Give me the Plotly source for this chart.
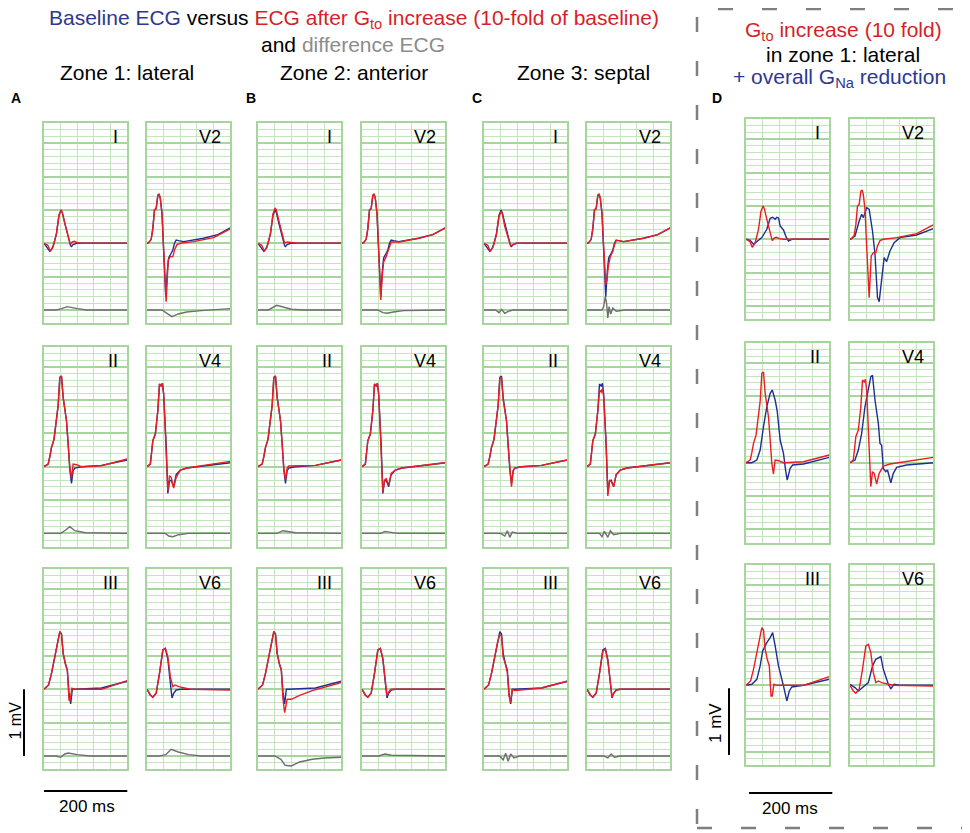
import plotly.graph_objects as go

# target picture size; the html page adds an 8 px body margin, so the figure is shifted by that
W, H = 970, 833
PAGE_MARGIN = 8

# lead layout inside each zone: rows of (left, right)
lead_rows = [("I", "V2"), ("II", "V4"), ("III", "V6")]

# ---- baseline ECG (blue in A-C), pairs of (ms, mV)
base_I = [(0, 0), (8, -0.06), (14, -0.12), (20, -0.07), (24, 0), (30, 0.15), (36, 0.42), (41, 0.5), (44, 0.46),
          (50, 0.3), (58, 0.1), (64, -0.04), (66, -0.05), (70, -0.02), (78, 0), (200, 0)]
base_V2 = [(0, 0), (4, 0.01), (10, 0.06), (14, 0.22), (18, 0.5), (22, 0.52), (26, 0.72), (29, 0.74), (32, 0.67),
           (36, 0.45), (40, -0.1), (45, -0.8), (49, -0.4), (52, -0.22), (58, -0.15), (62, -0.1), (66, 0.0),
           (70, 0.05), (76, 0.04), (88, 0.025), (136, 0.075), (170, 0.13), (200, 0.23)]
base_II = [(0, 0), (6, 0.02), (10, 0.04), (14, 0.15), (18, 0.29), (24, 0.41), (30, 0.69), (34, 0.92), (38, 1.34),
           (42, 1.36), (46, 1.04), (54, 0.69), (58, 0.34), (62, -0.05), (66, -0.25), (70, -0.06), (74, -0.02),
           (90, 0), (138, 0.02), (200, 0.1)]
base_V4 = [(0, 0), (8, 0.04), (14, 0.39), (20, 0.49), (26, 0.84), (30, 1.24), (34, 1.21), (37, 1.25), (40, 1.09),
           (46, 0.34), (50, -0.4), (54, -0.22), (58, -0.2), (64, -0.3), (70, -0.12), (80, -0.05), (96, -0.02),
           (200, 0.06)]
base_III = [(0, 0), (11, 0.065), (18, 0.24), (24, 0.44), (32, 0.69), (38, 0.865), (42, 0.83), (46, 0.54),
            (51, 0.39), (56, 0.29), (60, -0.05), (64, -0.22), (68, 0), (74, 0), (138, 0.02), (200, 0.12)]
base_V6 = [(0, 0), (8, -0.085), (14, -0.12), (22, -0.06), (30, 0.24), (38, 0.59), (44, 0.615), (50, 0.45),
           (56, 0.1), (60, -0.13), (64, -0.06), (70, -0.01), (80, 0), (200, 0)]

# ---- Gto increase in zone 1 (red in A and D)
red1_I = [(0, 0), (9, -0.03), (15, -0.12), (22, -0.05), (30, 0.15), (36, 0.42), (41, 0.5), (44, 0.46), (50, 0.3),
          (57, 0.1), (63, -0.02), (68, 0.02), (73, 0.03), (80, 0.01), (90, 0), (200, 0)]
red1_V2 = [(0, 0), (4, 0.01), (10, 0.06), (14, 0.22), (18, 0.5), (22, 0.52), (26, 0.72), (29, 0.74), (32, 0.67),
           (36, 0.45), (40, -0.1), (46, -0.875), (51, -0.25), (56, -0.2), (62, -0.2), (66, -0.1), (72, -0.02),
           (80, 0), (112, 0.025), (160, 0.085), (200, 0.215)]
red1_II = [(0, 0), (6, 0.02), (10, 0.04), (14, 0.15), (18, 0.29), (24, 0.41), (30, 0.69), (34, 0.92), (38, 1.34),
           (42, 1.36), (46, 1.04), (54, 0.69), (58, 0.34), (62, -0.01), (66, -0.17), (70, 0.04), (78, 0.03),
           (90, 0), (138, 0.015), (200, 0.115)]
red1_V4 = [(0, 0), (8, 0.04), (14, 0.39), (20, 0.49), (26, 0.84), (30, 1.24), (34, 1.21), (37, 1.25), (40, 1.09),
           (46, 0.34), (50, -0.36), (54, -0.135), (58, -0.16), (64, -0.32), (70, -0.16), (80, -0.05), (96, -0.02),
           (200, 0.08)]
red1_III = [(0, 0), (11, 0.065), (18, 0.24), (24, 0.44), (32, 0.69), (38, 0.865), (42, 0.83), (46, 0.54),
            (51, 0.39), (56, 0.29), (60, -0.16), (63, -0.16), (67, 0.015), (74, 0), (138, 0), (200, 0.13)]
red1_V6 = [(0, 0), (8, -0.085), (14, -0.12), (22, -0.06), (30, 0.24), (38, 0.59), (44, 0.615), (50, 0.49),
           (56, 0.19), (62, 0.04), (68, 0.065), (76, 0.04), (104, 0), (200, -0.01)]

# ---- Gto increase in zone 2 (red in B)
red2_I = [(0, 0), (9, -0.03), (15, -0.12), (22, -0.05), (30, 0.15), (36, 0.44), (41, 0.53), (44, 0.5), (50, 0.34),
          (58, 0.12), (64, 0.0), (70, 0.02), (80, 0.01), (95, 0), (200, 0)]
red2_V2 = [(0, 0), (4, 0.01), (10, 0.06), (14, 0.22), (18, 0.5), (22, 0.52), (26, 0.72), (29, 0.74), (32, 0.67),
           (36, 0.45), (40, -0.1), (45, -0.85), (49, -0.45), (52, -0.28), (58, -0.2), (62, -0.13), (66, -0.04),
           (70, 0.02), (78, 0.02), (90, 0.02), (136, 0.075), (170, 0.13), (200, 0.23)]
red2_II = [(0, 0), (6, 0.02), (10, 0.04), (14, 0.15), (18, 0.29), (24, 0.41), (30, 0.69), (34, 0.92), (38, 1.34),
           (42, 1.36), (46, 1.04), (54, 0.69), (58, 0.34), (62, -0.02), (66, -0.2), (70, -0.02), (74, 0.01),
           (90, 0.01), (138, 0.02), (200, 0.1)]
red2_V4 = [(0, 0), (8, 0.04), (14, 0.39), (20, 0.49), (26, 0.84), (30, 1.24), (34, 1.21), (37, 1.25), (40, 1.09),
           (46, 0.34), (50, -0.38), (54, -0.2), (58, -0.18), (64, -0.28), (70, -0.1), (80, -0.05), (96, -0.02),
           (200, 0.06)]
red2_III = [(0, 0), (11, 0.065), (18, 0.24), (24, 0.44), (32, 0.69), (38, 0.87), (42, 0.83), (46, 0.54),
            (51, 0.39), (56, 0.29), (60, -0.15), (64, -0.35), (70, -0.15), (80, -0.15), (100, -0.09),
            (130, -0.02), (200, 0.1)]
red2_V6 = [(0, 0), (8, -0.085), (14, -0.12), (22, -0.06), (30, 0.24), (38, 0.59), (44, 0.615), (50, 0.47),
           (56, 0.13), (60, -0.1), (64, -0.04), (70, 0), (80, 0), (200, 0)]

# ---- Gto increase in zone 3 (red in C)
red3_I = [(0, 0), (9, -0.03), (15, -0.12), (22, -0.05), (30, 0.13), (36, 0.4), (41, 0.48), (44, 0.44), (50, 0.25),
          (58, 0.08), (64, -0.04), (70, -0.02), (78, 0), (200, 0)]
red3_V2 = [(0, 0), (4, 0.01), (10, 0.06), (14, 0.22), (18, 0.5), (22, 0.52), (26, 0.72), (29, 0.74), (32, 0.67),
           (36, 0.45), (40, -0.05), (45, -0.62), (48, -0.55), (51, -0.35), (56, -0.2), (62, -0.12), (66, -0.02),
           (70, 0.04), (76, 0.04), (88, 0.025), (136, 0.075), (170, 0.13), (200, 0.23)]
red3_II = [(0, 0), (6, 0.02), (10, 0.04), (14, 0.15), (18, 0.29), (24, 0.41), (30, 0.69), (34, 0.92), (38, 1.32),
           (42, 1.34), (46, 1.0), (54, 0.69), (58, 0.3), (62, -0.08), (66, -0.3), (70, -0.06), (74, -0.02),
           (90, 0), (138, 0.02), (200, 0.1)]
red3_V4 = [(0, 0), (8, 0.04), (14, 0.39), (20, 0.49), (26, 0.84), (30, 1.15), (34, 1.12), (37, 1.17), (40, 1.05),
           (46, 0.3), (50, -0.44), (54, -0.2), (58, -0.22), (64, -0.3), (70, -0.12), (80, -0.05), (96, -0.02),
           (200, 0.06)]
red3_III = [(0, 0), (11, 0.065), (18, 0.24), (24, 0.44), (32, 0.69), (38, 0.82), (42, 0.8), (46, 0.48),
            (51, 0.39), (56, 0.25), (60, -0.1), (64, -0.2), (68, 0), (74, -0.02), (138, 0.02), (200, 0.12)]
red3_V6 = [(0, 0), (8, -0.085), (14, -0.12), (22, -0.06), (30, 0.24), (38, 0.57), (44, 0.6), (50, 0.42),
           (56, 0.12), (60, -0.12), (64, -0.06), (70, -0.01), (80, 0), (200, 0)]

# ---- difference ECG (gray), drawn 1 mV below the baseline
diff1_I = [(0, 0), (30, 0), (42, 0.02), (56, 0.05), (80, 0.02), (102, 0), (200, 0)]
diff1_V2 = [(0, 0), (36, 0), (48, -0.05), (60, -0.1), (75, -0.06), (95, -0.03), (130, -0.01), (200, 0.02)]
diff1_II = [(0, 0), (40, 0), (52, 0.05), (62, 0.1), (74, 0.04), (100, 0.01), (200, 0)]
diff1_V4 = [(0, 0), (44, 0), (52, -0.04), (62, -0.05), (76, -0.02), (100, 0), (200, 0)]
diff1_III = [(0, 0), (30, 0), (40, -0.02), (50, 0.03), (58, 0.045), (80, 0.02), (110, 0), (200, 0)]
diff1_V6 = [(0, 0), (30, 0), (45, 0.02), (58, 0.1), (75, 0.06), (100, 0.02), (130, 0), (200, 0)]

diff2_I = [(0, 0), (25, 0), (45, 0.07), (60, 0.04), (80, 0.01), (110, 0), (200, 0)]
diff2_V2 = [(0, 0), (38, 0), (50, -0.04), (60, -0.05), (75, -0.03), (100, -0.01), (200, 0)]
diff2_II = [(0, 0), (45, 0), (60, 0.04), (70, 0.03), (90, 0.01), (200, 0)]
diff2_V4 = [(0, 0), (45, 0), (55, 0.03), (65, 0.02), (85, 0), (200, 0)]
diff2_III = [(0, 0), (40, 0), (55, -0.05), (65, -0.14), (80, -0.15), (100, -0.09), (130, -0.05), (160, -0.03),
             (200, -0.02)]
diff2_V6 = [(0, 0), (40, 0), (55, 0.03), (70, 0.01), (200, 0)]

diff3_I = [(0, 0), (28, 0), (36, -0.04), (42, 0.01), (50, -0.05), (58, -0.02), (70, 0), (200, 0)]
diff3_V2 = [(0, 0), (36, 0), (40, 0.05), (44, 0.2), (47, 0.1), (50, -0.12), (53, 0.05), (57, -0.06), (62, 0.03),
            (70, -0.02), (90, 0), (200, 0)]
diff3_II = [(0, 0), (40, 0), (50, -0.04), (56, 0.04), (62, -0.06), (68, 0.02), (80, 0), (200, 0)]
diff3_V4 = [(0, 0), (30, 0), (36, -0.05), (42, 0.03), (50, -0.06), (56, 0.04), (64, -0.02), (80, 0), (200, 0)]
diff3_III = [(0, 0), (38, 0), (46, -0.06), (52, 0.04), (58, -0.08), (64, 0.03), (72, -0.03), (85, 0), (200, 0)]
diff3_V6 = [(0, 0), (40, 0), (50, -0.03), (58, 0.03), (66, -0.02), (80, 0), (200, 0)]

# ---- zone 1 Gto increase + overall GNa reduction (blue in D)
gna_I = [(0, 0), (10, -0.015), (18, -0.075), (26, -0.04), (38, 0.025), (50, 0.15), (58, 0.315), (64, 0.33),
         (70, 0.3), (74, 0.33), (78, 0.32), (82, 0.2), (90, 0.14), (97, 0.025), (102, -0.025), (110, 0), (200, 0)]
gna_V2 = [(0, 0), (12, 0.05), (22, 0.275), (28, 0.375), (32, 0.325), (40, 0.475), (46, 0.45), (54, 0.125),
          (60, -0.225), (66, -0.875), (70, -0.935), (76, -0.635), (82, -0.275), (88, -0.335), (96, -0.175),
          (106, -0.05), (120, 0.025), (160, 0.065), (200, 0.16)]
gna_II = [(0, 0), (14, 0), (26, 0.04), (34, 0.19), (42, 0.54), (50, 0.84), (58, 1.04), (63, 1.09), (70, 0.94),
          (75, 0.77), (82, 0.34), (90, 0.14), (95, -0.11), (99, -0.26), (106, -0.085), (112, -0.035), (138, -0.02),
          (200, 0.08)]
gna_V4 = [(0, 0), (12, 0.04), (20, 0.19), (28, 0.44), (36, 0.84), (44, 1.09), (50, 1.29), (54, 1.31), (60, 0.94),
          (68, 0.59), (72, 0.29), (76, 0.26), (80, -0.085), (86, -0.135), (90, -0.11), (98, -0.3), (104, -0.16),
          (112, -0.07), (136, -0.035), (200, 0)]
gna_III = [(0, 0), (14, 0.015), (26, 0.09), (34, 0.29), (40, 0.515), (50, 0.64), (58, 0.715), (64, 0.79),
           (70, 0.59), (78, 0.29), (90, -0.01), (98, -0.235), (104, -0.085), (110, -0.025), (138, 0), (200, 0.09)]
gna_V6 = [(0, 0.015), (12, -0.035), (20, -0.085), (30, -0.035), (44, 0.04), (54, 0.29), (62, 0.39), (74, 0.43),
          (80, 0.24), (88, 0.09), (92, 0.015), (98, -0.05), (106, 0.015), (120, 0), (200, 0)]

baseline = {"I": base_I, "V2": base_V2, "II": base_II, "V4": base_V4, "III": base_III, "V6": base_V6}
red_z1 = {"I": red1_I, "V2": red1_V2, "II": red1_II, "V4": red1_V4, "III": red1_III, "V6": red1_V6}
red_z2 = {"I": red2_I, "V2": red2_V2, "II": red2_II, "V4": red2_V4, "III": red2_III, "V6": red2_V6}
red_z3 = {"I": red3_I, "V2": red3_V2, "II": red3_II, "V4": red3_V4, "III": red3_III, "V6": red3_V6}
diff_z1 = {"I": diff1_I, "V2": diff1_V2, "II": diff1_II, "V4": diff1_V4, "III": diff1_III, "V6": diff1_V6}
diff_z2 = {"I": diff2_I, "V2": diff2_V2, "II": diff2_II, "V4": diff2_V4, "III": diff2_III, "V6": diff2_V6}
diff_z3 = {"I": diff3_I, "V2": diff3_V2, "II": diff3_II, "V4": diff3_V4, "III": diff3_III, "V6": diff3_V6}
gna_z1 = {"I": gna_I, "V2": gna_V2, "II": gna_II, "V4": gna_V4, "III": gna_III, "V6": gna_V6}

# ---- styling / geometry
BLUE = "#1f2e96"
RED = "#ec1c24"
GRAY = "#6e6e6e"
GRID_MINOR = "#c3e4bc"
GRID_MAJOR = "#a6d69d"
FONT = "Liberation Sans, Arial, sans-serif"

PANEL_W, PANEL_H = 83.3, 200.0
T_RANGE = [0, 200]
V_RANGE = [-1.2, 1.8]
DIFF_OFFSET = -1.0
PX_PER_MV = PANEL_H / (V_RANGE[1] - V_RANGE[0])

col_lefts = {"A": (44, 147), "B": (258, 362), "C": (484, 587), "D": (746, 850)}
row_tops = {"A": (123.3, 346.7, 569.3), "B": (123.3, 346.7, 569.3),
            "C": (123.3, 346.7, 569.3), "D": (119.3, 342.7, 565.3)}

panels = [("A", baseline, red_z1, diff_z1), ("B", baseline, red_z2, diff_z2),
          ("C", baseline, red_z3, diff_z3), ("D", gna_z1, red_z1, None)]

FIG_W, FIG_H = W - PAGE_MARGIN, H - PAGE_MARGIN


def px(x):
    return (x - PAGE_MARGIN) / FIG_W


def py(y):
    return 1 - (y - PAGE_MARGIN) / FIG_H


fig = go.Figure()
annotations = []
n = 0
for zone, blue_set, red_set, diff_set in panels:
    for r, pair in enumerate(lead_rows):
        for c, lead in enumerate(pair):
            n += 1
            left = col_lefts[zone][c]
            top = row_tops[zone][r]
            sfx = "" if n == 1 else str(n)
            fig.layout["xaxis" + sfx] = dict(
                domain=[px(left), px(left + PANEL_W)], range=T_RANGE, anchor="y" + sfx,
                dtick=40, tick0=0, showgrid=True, gridcolor=GRID_MINOR, gridwidth=1.3,
                showticklabels=False, ticks="", zeroline=False,
                showline=True, mirror=True, linecolor=GRID_MAJOR, linewidth=2, fixedrange=True)
            fig.layout["yaxis" + sfx] = dict(
                domain=[py(top + PANEL_H), py(top)], range=V_RANGE, anchor="x" + sfx,
                dtick=0.5, tick0=0, showgrid=True, gridcolor=GRID_MAJOR, gridwidth=2,
                minor=dict(dtick=0.1, tick0=0, showgrid=True, gridcolor=GRID_MINOR, gridwidth=1.2),
                showticklabels=False, ticks="", zeroline=False,
                showline=True, mirror=True, linecolor=GRID_MAJOR, linewidth=2, fixedrange=True)
            xa, ya = "x" + sfx, "y" + sfx
            if diff_set is not None:
                d = diff_set[lead]
                fig.add_trace(go.Scatter(x=[p[0] for p in d], y=[p[1] + DIFF_OFFSET for p in d], mode="lines",
                                         line=dict(color=GRAY, width=1.4), xaxis=xa, yaxis=ya))
            b = blue_set[lead]
            fig.add_trace(go.Scatter(x=[p[0] for p in b], y=[p[1] for p in b], mode="lines",
                                     line=dict(color=BLUE, width=1.4), xaxis=xa, yaxis=ya))
            rd = red_set[lead]
            fig.add_trace(go.Scatter(x=[p[0] for p in rd], y=[p[1] for p in rd], mode="lines",
                                     line=dict(color=RED, width=1.4), xaxis=xa, yaxis=ya))
            annotations.append(dict(text=lead, x=px(left + PANEL_W - 7), y=py(top + 14), xref="paper",
                                    yref="paper", xanchor="right", yanchor="middle", showarrow=False,
                                    font=dict(size=18, color="black", family=FONT)))


def text(t, x, y, size=21, color="black", bold=False, xanchor="center", angle=0):
    if bold:
        t = "<b>" + t + "</b>"
    annotations.append(dict(text=t, x=px(x), y=py(y), xref="paper", yref="paper", xanchor=xanchor,
                            yanchor="middle", showarrow=False, textangle=angle,
                            font=dict(size=size, color=color, family=FONT)))


T_BLUE = "#2b3990"
T_RED = "#d71f26"
T_GRAY = "#8c8c8c"
text("<span style='color:%s'>Baseline ECG</span> versus <span style='color:%s'>ECG after "
     "G<sub>to</sub> increase (10-fold of baseline)</span>" % (T_BLUE, T_RED), 354, 19)
text("and <span style='color:%s'>difference ECG</span>" % T_GRAY, 353, 44)
text("Zone 1: lateral", 127, 73)
text("Zone 2: anterior", 354, 73)
text("Zone 3: septal", 583, 73)
for letter, x in [("A", 16), ("B", 251), ("C", 477), ("D", 717)]:
    text(letter, x, 98, size=14, bold=True)
text("G<sub>to</sub> increase (10 fold)", 843, 31, color=T_RED)
text("in zone 1: lateral", 843, 54)
text("+ overall G<sub>Na</sub> reduction", 839, 78, color=T_BLUE)

# scale bars: 1 mV and 200 ms
bar_a_base = row_tops["A"][2] + V_RANGE[1] * PX_PER_MV
bar_d_base = row_tops["D"][2] + V_RANGE[1] * PX_PER_MV
shapes = [
    dict(type="line", xref="paper", yref="paper", x0=px(24), x1=px(24), y0=py(bar_a_base),
         y1=py(bar_a_base + PX_PER_MV), line=dict(color="black", width=2)),
    dict(type="line", xref="paper", yref="paper", x0=px(44), x1=px(44 + PANEL_W), y0=py(791), y1=py(791),
         line=dict(color="black", width=2)),
    dict(type="line", xref="paper", yref="paper", x0=px(729), x1=px(729), y0=py(bar_d_base + 3),
         y1=py(bar_d_base + 3 + PX_PER_MV), line=dict(color="black", width=2)),
    dict(type="line", xref="paper", yref="paper", x0=px(749), x1=px(749 + PANEL_W), y0=py(793), y1=py(793),
         line=dict(color="black", width=2)),
    dict(type="rect", xref="paper", yref="paper", x0=px(697), x1=px(965.5), y0=py(828), y1=py(9),
         line=dict(color="#7f7f7f", width=2.5, dash="15px,29px")),
]
text("1 mV", 14.5, 721, size=16, angle=-90)
text("200 ms", 87, 806, size=17)
text("1 mV", 715, 723, size=17, angle=-90)
text("200 ms", 790, 808, size=17)

fig.update_layout(width=FIG_W, height=FIG_H, margin=dict(l=0, r=0, t=0, b=0), showlegend=False,
                  paper_bgcolor="white", plot_bgcolor="white", annotations=annotations, shapes=shapes,
                  font=dict(family=FONT))
fig.write_html("out.html")
